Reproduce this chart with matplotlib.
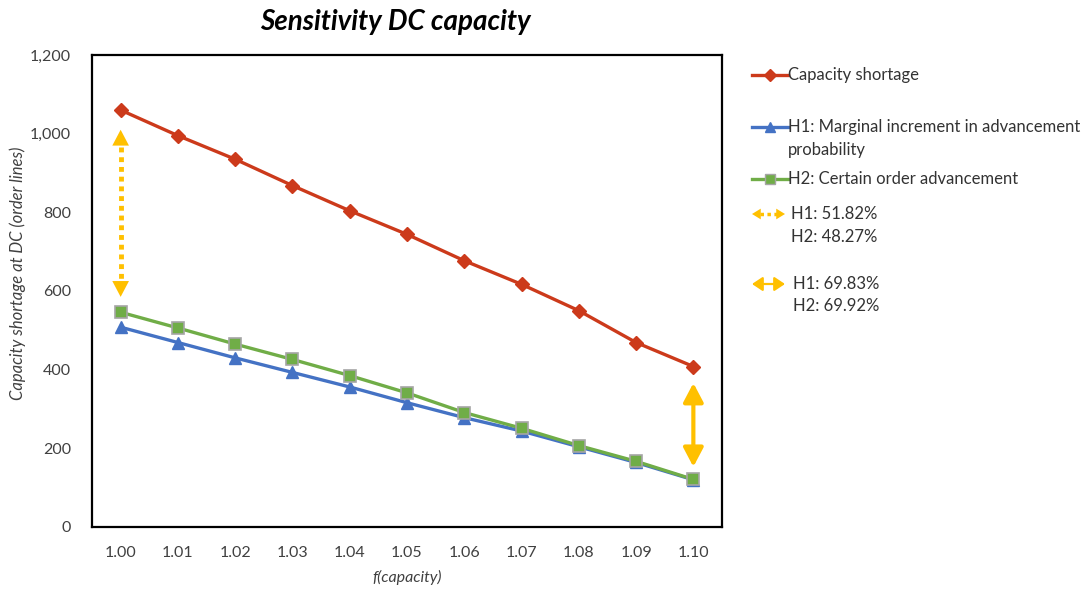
import matplotlib
matplotlib.use("Agg")
import matplotlib.pyplot as plt
from matplotlib.lines import Line2D
from matplotlib.patches import FancyArrowPatch
from matplotlib.ticker import FuncFormatter

# ---- data ----
f_capacity = [1.00, 1.01, 1.02, 1.03, 1.04, 1.05, 1.06, 1.07, 1.08, 1.09, 1.10]
x_labels = ["1.00", "1.01", "1.02", "1.03", "1.04", "1.05", "1.06", "1.07", "1.08", "1.09", "1.10"]
capacity_shortage = [1060, 995, 935, 868, 804, 744, 677, 617, 550, 469, 408]
h1_marginal = [508, 469, 430, 393, 356, 316, 278, 244, 204, 164, 120]
h2_certain = [546, 506, 465, 426, 385, 341, 291, 251, 207, 167, 121]

series_names = ["Capacity shortage",
                "H1: Marginal increment in advancement\nprobability",
                "H2: Certain order advancement"]
arrow1_text = "H1: 51.82%\nH2: 48.27%"
arrow2_text = "H1: 69.83%\nH2: 69.92%"

RED = "#CC3A1B"
BLUE = "#4472C4"
GREEN = "#70AD47"
YELLOW = "#FFC000"

plt.rcParams['font.family'] = ['Lato', 'DejaVu Sans']

W, H = 1091, 590
fig = plt.figure(figsize=(W / 100, H / 100), dpi=100)
ax = fig.add_axes([92 / W, 1 - 527 / H, 630 / W, 472 / H])

ax.plot(f_capacity, capacity_shortage, color=RED, lw=2.4, marker="D", ms=7.5,
        markeredgecolor=RED, zorder=3)
ax.plot(f_capacity, h1_marginal, color=BLUE, lw=2.4, marker="^", ms=9,
        markeredgecolor=BLUE, zorder=3)
ax.plot(f_capacity, h2_certain, color=GREEN, lw=2.4, marker="s", ms=8.5,
        markeredgecolor="#A5A5A5", markeredgewidth=1.2, zorder=4)

# double-headed arrows
def dbl_arrow(x, y0, y1, dotted):
    if dotted:
        ax.plot([x, x], [y0 + 30, y1 - 30], color=YELLOW, lw=3.5,
                linestyle=(0, (1, 1)), zorder=2)
        for ya, yb in ((y0 + 40, y0), (y1 - 40, y1)):
            ax.add_patch(FancyArrowPatch((x, ya), (x, yb),
                                         arrowstyle="-|>,head_length=0.95,head_width=0.5",
                                         mutation_scale=12, color=YELLOW, lw=0, zorder=2))
    else:
        ax.add_patch(FancyArrowPatch((x, y0), (x, y1),
                                     arrowstyle="<|-|>,head_length=0.95,head_width=0.5",
                                     mutation_scale=12, color=YELLOW, lw=3, zorder=2,
                                     shrinkA=0, shrinkB=0))

dbl_arrow(f_capacity[0], h2_certain[0] + 32, capacity_shortage[0] - 43, True)
dbl_arrow(f_capacity[-1], h2_certain[-1] + 32, capacity_shortage[-1] - 42, False)

ax.set_xlim(0.995, 1.105)
ax.set_ylim(0, 1200)
ax.set_xticks(f_capacity)
ax.set_xticklabels(x_labels)
ax.set_yticks(range(0, 1201, 200))
ax.yaxis.set_major_formatter(FuncFormatter(lambda v, p: f"{int(v):,}"))
ax.tick_params(length=0, labelsize=11.5, colors="#404040")
ax.tick_params(axis="x", pad=14)
ax.tick_params(axis="y", pad=15)
for s in ax.spines.values():
    s.set_color("black")
    s.set_linewidth(1.6)

ax.set_xlabel("f(capacity)", fontstyle="italic", fontsize=11.5, color="#404040", labelpad=7)
fig.text(18 / W, 1 - 273 / H, "Capacity shortage at DC (order lines)", rotation=90,
         fontstyle="italic", fontsize=12, color="#404040", ha="center", va="center")

fig.text(395 / W, 1 - 22 / H, "Sensitivity DC capacity", fontsize=20,
         fontweight="bold", fontstyle="italic", ha="center", va="center")

# ---- legend (manual) ----
def fy(y):
    return 1 - y / H

def leg_line(y, color, marker, ms, mec):
    fig.add_artist(Line2D([752 / W, 788 / W], [fy(y), fy(y)], color=color, lw=2.4,
                          transform=fig.transFigure))
    fig.add_artist(Line2D([770 / W], [fy(y)], color=color, marker=marker, ms=ms,
                          markeredgecolor=mec, transform=fig.transFigure, lw=0))

FS = 12
TC = "#333333"
LS = 1.5
leg_line(75, RED, "D", 6, RED)
fig.text(788 / W, fy(75), series_names[0], fontsize=FS, va="center", color=TC)
leg_line(127, BLUE, "^", 7, BLUE)
fig.text(788 / W, fy(138.5), series_names[1], fontsize=FS, va="center", color=TC,
         linespacing=LS)
leg_line(179, GREEN, "s", 6.5, "#A5A5A5")
fig.text(788 / W, fy(179), series_names[2], fontsize=FS, va="center", color=TC)

# dotted arrow legend
fig.add_artist(Line2D([760 / W, 777 / W], [fy(214), fy(214)], color=YELLOW, lw=2.5,
                      linestyle=(0, (1, 1)), transform=fig.transFigure))
for xa, xb in ((760, 752), (777, 785)):
    fig.add_artist(FancyArrowPatch((xa / W, fy(214)), (xb / W, fy(214)),
                                   transform=fig.transFigure,
                                   arrowstyle="-|>,head_length=0.9,head_width=0.55",
                                   mutation_scale=7, color=YELLOW, lw=0,
                                   shrinkA=0, shrinkB=0))
fig.text(791 / W, fy(225.5), arrow1_text, fontsize=FS, va="center", color=TC,
         linespacing=LS)

fig.add_artist(FancyArrowPatch((752 / W, fy(284)), (785 / W, fy(284)),
                               transform=fig.transFigure,
                               arrowstyle="<|-|>,head_length=0.9,head_width=0.6",
                               mutation_scale=7, color=YELLOW, lw=1.6,
                               shrinkA=0, shrinkB=0))
fig.text(793 / W, fy(295), arrow2_text, fontsize=FS, va="center", color=TC,
         linespacing=LS)

fig.savefig("out.png", dpi=100)
